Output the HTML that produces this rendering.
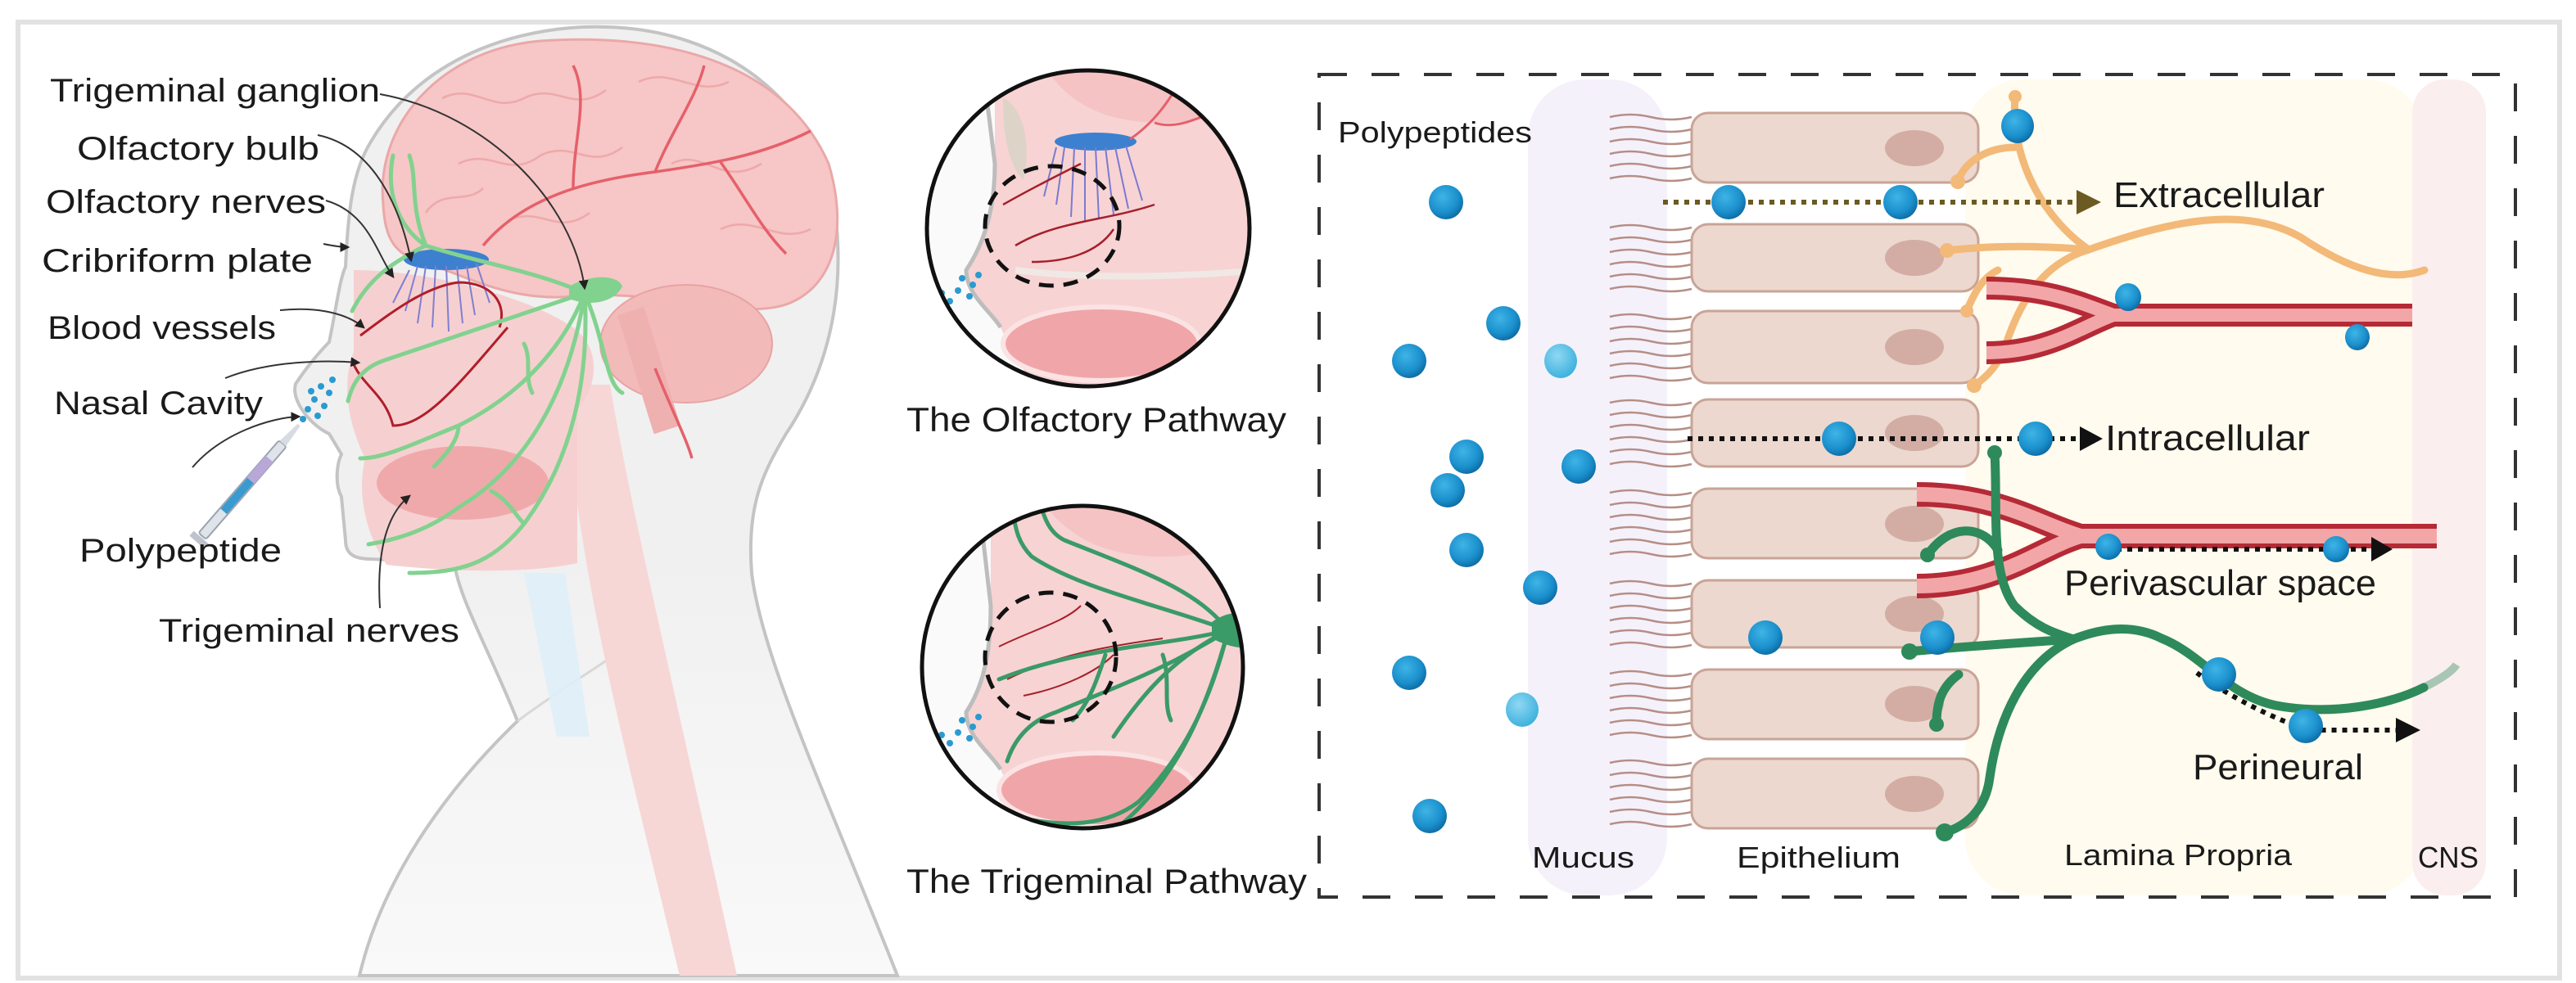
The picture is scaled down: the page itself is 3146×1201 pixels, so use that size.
<!DOCTYPE html>
<html><head><meta charset="utf-8"><style>
html,body{margin:0;padding:0;background:#fff;}
svg{display:block;}
text{font-family:"Liberation Sans",sans-serif;fill:#1a1a1a;}
</style></head><body>
<svg width="3146" height="1201" viewBox="0 0 3146 1201" xmlns="http://www.w3.org/2000/svg">
<defs>
<marker id="ah" viewBox="0 0 10 10" refX="8" refY="5" markerWidth="6" markerHeight="6" orient="auto"><path d="M0,0 L10,5 L0,10 Z" fill="#222"/></marker>
<radialGradient id="ball" cx="40%" cy="35%" r="65%"><stop offset="0" stop-color="#3fb4e6"/><stop offset="0.7" stop-color="#1a8fcc"/><stop offset="1" stop-color="#0f6fa8"/></radialGradient>
<radialGradient id="ballL" cx="40%" cy="35%" r="65%"><stop offset="0" stop-color="#8fd8f2"/><stop offset="1" stop-color="#3fb2de"/></radialGradient>
<linearGradient id="bodyg" x1="0" y1="0" x2="0" y2="1"><stop offset="0.55" stop-color="#f0f0f0"/><stop offset="1" stop-color="#f9f9f9"/></linearGradient>
<g id="cil" fill="none" stroke="#b58e86" stroke-width="2.5">
<path d="M1966,0 q25,-6 50,0 t50,0"/><path d="M1966,15 q25,-6 50,0 t50,0"/><path d="M1966,30 q25,-6 50,0 t50,0"/><path d="M1966,45 q25,-6 50,0 t50,0"/><path d="M1966,60 q25,-6 50,0 t50,0"/><path d="M1966,75 q25,-6 50,0 t50,0"/>
</g>
<clipPath id="c1"><ellipse cx="1329" cy="279" rx="197" ry="193"/></clipPath>
<clipPath id="c2"><ellipse cx="1322" cy="815" rx="196" ry="197"/></clipPath>
</defs>

<rect x="22" y="27" width="3104" height="1168" fill="#fff" stroke="#e2e2e2" stroke-width="6"/>

<!-- HEAD -->
<path d="M453,173 C520,60 650,30 740,33 C880,36 1000,120 1020,260 C1035,380 1000,470 960,530 C930,580 912,620 918,700 C930,800 1000,950 1096,1192 L439,1192 C470,1060 560,950 632,881 C600,800 560,730 555,688 L453,683 C430,683 422,675 422,660 L417,607 C408,590 412,565 417,555 L402,530 C380,520 355,490 361,469 C380,440 400,420 402,418 C410,380 415,340 422,326 C425,260 430,210 453,173 Z" fill="url(#bodyg)" stroke="#c4c4c4" stroke-width="4"/>
<path d="M632,881 C700,830 760,800 800,760" fill="none" stroke="#d8d8d8" stroke-width="3"/>
<path d="M690,470 L745,470 C770,620 810,780 900,1192 L830,1192 C760,900 705,700 690,470 Z" fill="#f7d6d6"/>
<path d="M640,700 L690,700 L720,900 L680,900 Z" fill="#dfeef8" opacity="0.9"/>
<path d="M432,330 C520,330 640,360 700,400 C740,430 725,480 705,500 L705,688 C650,700 560,700 472,690 C445,650 436,600 446,560 C426,520 416,470 432,430 Z" fill="#f6d0d0"/>
<ellipse cx="565" cy="590" rx="105" ry="45" fill="#f0a9ab"/>
<path d="M468,250 C458,150 540,60 660,50 C800,40 955,70 1012,200 C1036,280 1020,350 960,372 C900,392 800,352 700,362 C620,370 560,332 520,322 C482,312 470,292 468,250 Z" fill="#f7c6c6" stroke="#eaa8a8" stroke-width="3"/>
<ellipse cx="838" cy="420" rx="105" ry="72" fill="#f3baba" stroke="#e8a3a3" stroke-width="2"/>
<path d="M770,380 C790,440 800,480 815,525" stroke="#efb0b0" stroke-width="34" fill="none"/>
<g fill="none" stroke="#eda9aa" stroke-width="2.5">
<path d="M540,120 C580,100 600,140 640,120 C680,100 700,140 740,110"/><path d="M560,200 C600,180 620,220 660,190 C700,170 720,210 760,180"/>
<path d="M780,100 C820,80 850,120 890,100"/><path d="M820,200 C860,180 880,230 930,200"/><path d="M620,270 C660,250 680,290 720,260"/>
<path d="M880,280 C920,260 950,300 990,280"/><path d="M520,260 C540,230 570,250 590,230"/>
</g>
<g fill="none" stroke="#e5606a" stroke-width="3.5">
<path d="M590,300 C640,240 720,220 800,210 C870,200 930,190 990,160"/>
<path d="M700,230 C700,170 720,120 700,80"/><path d="M800,210 C820,160 850,120 860,80"/>
<path d="M880,198 C910,240 930,280 960,310"/><path d="M800,450 C820,500 840,540 845,560"/>
</g>
<ellipse cx="545" cy="317" rx="52" ry="13" fill="#3d80cf"/>
<g stroke="#7f7fd0" stroke-width="2" fill="none">
<path d="M510,325 L495,380"/><path d="M520,325 L510,395"/><path d="M532,325 L528,400"/><path d="M545,325 L548,405"/><path d="M558,325 L565,395"/><path d="M570,325 L580,385"/><path d="M582,322 L598,370"/><path d="M500,330 L480,370"/>
</g>
<g fill="none" stroke="#b01e2a" stroke-width="3">
<path d="M440,410 C480,380 520,350 560,345 C600,345 620,370 610,400"/><path d="M430,440 C440,470 470,480 480,520 C520,520 560,470 620,400"/>
</g>
<g fill="none" stroke="#82d28f" stroke-width="5" stroke-linecap="round">
<path d="M714,358 C650,330 580,320 520,300 C490,280 470,240 480,190"/>
<path d="M520,300 C500,250 510,220 500,190"/><path d="M520,300 C480,320 450,340 430,380"/>
<path d="M714,358 C650,380 560,410 470,440 C440,450 430,470 425,490"/>
<path d="M714,358 C690,420 640,480 560,520 C510,540 470,560 440,560"/>
<path d="M714,358 C700,450 660,560 560,620 C520,650 480,660 450,665"/>
<path d="M714,358 C720,460 700,560 640,640 C600,690 560,700 500,700"/>
<path d="M714,358 C740,420 740,470 760,480"/><path d="M640,420 C650,440 640,460 650,480"/>
<path d="M560,520 C560,540 540,560 530,570"/><path d="M600,600 C620,610 630,630 640,640"/>
</g>
<path d="M695,350 C720,335 755,335 760,350 C750,370 720,375 695,365 Z" fill="#82d28f"/>
<g fill="#2a9bd0">
<circle cx="392" cy="472" r="4"/><circle cx="402" cy="480" r="4"/><circle cx="384" cy="488" r="4"/><circle cx="396" cy="496" r="4"/><circle cx="376" cy="500" r="4"/><circle cx="388" cy="508" r="4"/><circle cx="370" cy="512" r="4"/><circle cx="406" cy="464" r="4"/><circle cx="380" cy="478" r="4"/>
</g>
<g transform="translate(247,655) rotate(-49)">
<rect x="0" y="-6" width="150" height="12" rx="3" fill="#dfe3ea" stroke="#9aa3b0" stroke-width="2"/>
<rect x="40" y="-5" width="50" height="10" fill="#3a9bd0"/>
<rect x="90" y="-6" width="35" height="12" fill="#b9a7d8"/>
<rect x="-10" y="-12" width="8" height="24" fill="#bfc4cc"/>
<path d="M150,-5 L180,-2 L180,2 L150,5 Z" fill="#d8dce2"/>
</g>
<g fill="none" stroke="#333" stroke-width="2" marker-end="url(#ah)">
<path d="M464,115 C600,140 700,250 714,352"/>
<path d="M388,165 C460,180 490,260 502,318"/>
<path d="M398,245 C450,260 460,310 480,338"/>
<path d="M395,298 C405,300 415,302 425,302"/>
<path d="M342,379 C380,375 420,380 444,400"/>
<path d="M275,462 C330,440 400,440 438,443"/>
<path d="M235,571 C270,530 330,510 365,509"/>
<path d="M464,743 C460,680 470,630 500,606"/>
</g>
<g font-size="40">
<text x="61" y="124" textLength="403" lengthAdjust="spacingAndGlyphs">Trigeminal ganglion</text>
<text x="94" y="195" textLength="296" lengthAdjust="spacingAndGlyphs">Olfactory bulb</text>
<text x="56" y="260" textLength="342" lengthAdjust="spacingAndGlyphs">Olfactory nerves</text>
<text x="51" y="332" textLength="331" lengthAdjust="spacingAndGlyphs">Cribriform plate</text>
<text x="58" y="414" textLength="279" lengthAdjust="spacingAndGlyphs">Blood vessels</text>
<text x="66" y="506" textLength="255" lengthAdjust="spacingAndGlyphs">Nasal Cavity</text>
<text x="97" y="686" textLength="247" lengthAdjust="spacingAndGlyphs">Polypeptide</text>
<text x="194" y="784" textLength="367" lengthAdjust="spacingAndGlyphs">Trigeminal nerves</text>
</g>

<!-- CIRCLE 1 -->
<g clip-path="url(#c1)">
<rect x="1120" y="80" width="420" height="400" fill="#fafafa"/>
<path d="M1215,80 L1540,80 L1540,480 L1260,480 C1250,440 1230,420 1222,400 C1210,380 1180,360 1180,330 C1200,300 1215,260 1215,200 Z" fill="#f7d3d3"/>
<path d="M1275,80 C1300,120 1340,150 1420,150 C1480,150 1520,130 1540,110 L1540,80 Z" fill="#f5c3c3"/>
<path d="M1200,80 L1215,200 C1215,260 1200,300 1180,330 C1180,360 1210,380 1222,400" fill="none" stroke="#bdbdbd" stroke-width="5"/>
<path d="M1225,120 C1250,130 1260,180 1250,220 C1230,200 1225,160 1225,120 Z" fill="#ddd3c7"/>
<ellipse cx="1345" cy="420" rx="120" ry="45" fill="#f0a6a8" stroke="#fbe3e3" stroke-width="6"/>
<path d="M1240,330 C1320,340 1420,340 1540,330" stroke="#f0e8e4" stroke-width="8" fill="none"/>
<ellipse cx="1338" cy="173" rx="50" ry="11" fill="#3d80cf"/>
<g stroke="#7a7ad0" stroke-width="2" fill="none">
<path d="M1300,180 L1290,250"/><path d="M1312,180 L1308,265"/><path d="M1325,180 L1325,270"/><path d="M1338,180 L1342,268"/><path d="M1350,180 L1360,262"/><path d="M1362,180 L1378,255"/><path d="M1375,178 L1395,245"/><path d="M1290,180 L1275,240"/>
</g>
<g stroke="#e5606a" stroke-width="3" fill="none"><path d="M1380,170 C1410,150 1430,120 1440,100"/><path d="M1410,150 C1440,160 1470,140 1500,130"/></g>
<g stroke="#a51f2b" stroke-width="2.5" fill="none"><path d="M1225,250 C1260,230 1300,210 1320,200"/><path d="M1240,300 C1290,270 1350,270 1410,250"/><path d="M1260,320 C1300,320 1340,310 1360,280"/></g>
<ellipse cx="1285" cy="276" rx="82" ry="73" fill="none" stroke="#111" stroke-width="5" stroke-dasharray="18,12"/>
<g fill="#2a9bd0"><circle cx="1175" cy="340" r="4"/><circle cx="1188" cy="348" r="4"/><circle cx="1170" cy="355" r="4"/><circle cx="1184" cy="362" r="4"/><circle cx="1160" cy="368" r="4"/><circle cx="1195" cy="336" r="4"/><circle cx="1150" cy="358" r="4"/></g>
</g>
<ellipse cx="1329" cy="279" rx="197" ry="193" fill="none" stroke="#111" stroke-width="5"/>
<text x="1107" y="527" font-size="42" textLength="464" lengthAdjust="spacingAndGlyphs">The Olfactory Pathway</text>

<!-- CIRCLE 2 -->
<g clip-path="url(#c2)">
<rect x="1120" y="610" width="420" height="420" fill="#fafafa"/>
<path d="M1210,610 L1540,610 L1540,1020 L1260,1020 C1250,980 1230,960 1222,940 C1210,920 1180,900 1180,870 C1200,840 1210,800 1210,740 Z" fill="#f7d3d3"/>
<path d="M1270,610 C1300,650 1340,680 1420,680 C1480,680 1520,660 1540,640 L1540,610 Z" fill="#f5c3c3"/>
<path d="M1195,610 L1210,740 C1210,800 1200,840 1180,870 C1180,900 1210,920 1222,940" fill="none" stroke="#bdbdbd" stroke-width="5"/>
<ellipse cx="1340" cy="965" rx="120" ry="45" fill="#f0a6a8" stroke="#fbe3e3" stroke-width="6"/>
<g stroke="#a51f2b" stroke-width="2" fill="none"><path d="M1220,790 C1260,770 1300,760 1320,740"/><path d="M1230,830 C1290,800 1350,790 1420,780"/><path d="M1250,850 C1300,840 1340,820 1360,800"/></g>
<g fill="none" stroke="#3a9a68" stroke-width="5" stroke-linecap="round">
<path d="M1500,770 C1420,790 1320,790 1220,830"/>
<path d="M1500,770 C1420,740 1320,720 1260,680 C1240,660 1240,640 1235,615"/>
<path d="M1500,770 C1460,720 1400,700 1300,660 C1280,650 1275,630 1270,615"/>
<path d="M1500,770 C1480,850 1450,920 1390,980 C1350,1010 1300,1010 1250,1000"/>
<path d="M1500,770 C1420,820 1360,840 1290,870 C1260,880 1240,900 1230,930"/>
<path d="M1500,770 C1470,880 1430,960 1360,1015"/>
<path d="M1500,770 C1440,800 1400,840 1360,900"/><path d="M1350,800 C1340,830 1330,860 1310,880"/>
<path d="M1420,800 C1430,830 1420,860 1430,880"/>
</g>
<path d="M1480,760 C1500,745 1530,745 1540,760 L1540,790 C1520,795 1500,790 1480,780 Z" fill="#3a9a68"/>
<ellipse cx="1283" cy="803" rx="80" ry="79" fill="none" stroke="#111" stroke-width="5" stroke-dasharray="18,12"/>
<g fill="#2a9bd0"><circle cx="1175" cy="880" r="4"/><circle cx="1188" cy="888" r="4"/><circle cx="1170" cy="895" r="4"/><circle cx="1184" cy="902" r="4"/><circle cx="1160" cy="908" r="4"/><circle cx="1195" cy="876" r="4"/><circle cx="1150" cy="898" r="4"/></g>
</g>
<ellipse cx="1322" cy="815" rx="196" ry="197" fill="none" stroke="#111" stroke-width="5"/>
<text x="1107" y="1091" font-size="42" textLength="489" lengthAdjust="spacingAndGlyphs">The Trigeminal Pathway</text>

<!-- RIGHT PANEL -->
<rect x="1866" y="97" width="170" height="997" rx="70" fill="#f5f1fb"/>
<rect x="2400" y="97" width="560" height="997" rx="70" fill="#fffbee"/>
<rect x="2946" y="97" width="90" height="997" rx="40" fill="#fbeeee"/>
<rect x="1611" y="91" width="1461" height="1005" fill="none" stroke="#333" stroke-width="4" stroke-dasharray="34,30"/>

<use href="#cil" transform="translate(0,143)"/><use href="#cil" transform="translate(0,278)"/>
<use href="#cil" transform="translate(0,387)"/><use href="#cil" transform="translate(0,492)"/>
<use href="#cil" transform="translate(0,602)"/><use href="#cil" transform="translate(0,713)"/>
<use href="#cil" transform="translate(0,823)"/><use href="#cil" transform="translate(0,932)"/>
<g fill="#ecd8cf" stroke="#c9a497" stroke-width="3">
<rect x="2066" y="138" width="350" height="85" rx="20"/><rect x="2066" y="274" width="350" height="82" rx="20"/>
<rect x="2066" y="380" width="350" height="88" rx="20"/><rect x="2066" y="488" width="350" height="82" rx="20"/>
<rect x="2066" y="597" width="350" height="85" rx="20"/><rect x="2066" y="709" width="350" height="82" rx="20"/>
<rect x="2066" y="818" width="350" height="85" rx="20"/><rect x="2066" y="927" width="350" height="85" rx="20"/>
</g>
<g fill="#d3ada3">
<ellipse cx="2338" cy="181" rx="36" ry="22"/><ellipse cx="2338" cy="315" rx="36" ry="22"/><ellipse cx="2338" cy="424" rx="36" ry="22"/><ellipse cx="2338" cy="529" rx="36" ry="22"/>
<ellipse cx="2338" cy="640" rx="36" ry="22"/><ellipse cx="2338" cy="750" rx="36" ry="22"/><ellipse cx="2338" cy="860" rx="36" ry="22"/><ellipse cx="2338" cy="970" rx="36" ry="22"/>
</g>

<g fill="none" stroke="#f3b978" stroke-width="9" stroke-linecap="round">
<path d="M2461,118 C2455,200 2500,270 2551,305"/>
<path d="M2551,305 C2650,270 2740,250 2810,290 C2870,330 2920,345 2961,330"/>
<path d="M2551,305 C2490,300 2430,300 2378,306"/>
<path d="M2551,305 C2500,320 2470,360 2450,420 C2440,450 2420,465 2411,471"/>
<path d="M2461,180 C2430,180 2400,195 2391,222"/>
<path d="M2440,330 C2420,340 2410,360 2402,380"/>
</g>
<g fill="#f3b978"><circle cx="2461" cy="118" r="8"/><circle cx="2378" cy="306" r="9"/><circle cx="2411" cy="471" r="9"/><circle cx="2391" cy="222" r="9"/><circle cx="2402" cy="380" r="8"/></g>

<g fill="none">
<path d="M2426,352 C2500,352 2540,370 2581,385 L2946,385 M2426,431 C2500,431 2540,400 2581,385" stroke="#b52a36" stroke-width="28"/>
<path d="M2426,352 C2500,352 2540,370 2581,385 L2946,385 M2426,431 C2500,431 2540,400 2581,385" stroke="#f2a6a8" stroke-width="16"/>
</g>
<g fill="none">
<path d="M2341,604 C2440,604 2490,640 2541,655 L2976,655 M2341,716 C2440,716 2490,670 2541,655" stroke="#b52a36" stroke-width="30"/>
<path d="M2341,604 C2440,604 2490,640 2541,655 L2976,655 M2341,716 C2440,716 2490,670 2541,655" stroke="#f2a6a8" stroke-width="18"/>
</g>

<g fill="none" stroke="#2e8a5a" stroke-width="11" stroke-linecap="round">
<path d="M2436,553 C2440,620 2430,700 2460,740 C2490,770 2515,775 2532,781"/>
<path d="M2532,781 C2560,770 2600,760 2640,780 C2690,800 2720,850 2780,862 C2850,875 2920,860 2960,840"/>
<path d="M2532,781 C2470,785 2400,790 2332,796"/>
<path d="M2532,781 C2470,810 2440,880 2430,950 C2425,990 2400,1010 2375,1017"/>
<path d="M2392,824 C2370,840 2365,860 2365,885"/>
<path d="M2440,672 C2420,640 2380,640 2354,678"/>
</g>
<path d="M2960,840 C2980,830 2995,820 3000,812" fill="none" stroke="#2e8a5a" stroke-width="10" opacity="0.4"/>
<g fill="#2e8a5a"><circle cx="2436" cy="553" r="9"/><circle cx="2332" cy="796" r="10"/><circle cx="2375" cy="1017" r="11"/><circle cx="2365" cy="885" r="9"/><circle cx="2354" cy="678" r="9"/></g>

<g fill="none" stroke-width="6" stroke-dasharray="6,7">
<path d="M2031,247 L2538,247" stroke="#6b5a22"/>
<path d="M2061,536 L2540,536" stroke="#111"/>
<path d="M2572,671 L2900,671" stroke="#111"/>
<path d="M2683,822 C2720,850 2780,880 2820,892 L2935,892" stroke="#111"/>
</g>
<path d="M2536,232 L2566,247 L2536,262 Z" fill="#6b5a22"/>
<path d="M2540,521 L2568,536 L2540,551 Z" fill="#111"/>
<path d="M2896,656 L2922,671 L2896,686 Z" fill="#111"/>
<path d="M2926,877 L2956,892 L2926,907 Z" fill="#111"/>

<g fill="url(#ball)">
<ellipse cx="1766" cy="247" rx="21" ry="21"/><ellipse cx="1836" cy="395" rx="21" ry="21"/><ellipse cx="1721" cy="441" rx="21" ry="21"/>
<ellipse cx="1791" cy="558" rx="21" ry="21"/><ellipse cx="1768" cy="599" rx="21" ry="21"/><ellipse cx="1928" cy="570" rx="21" ry="21"/>
<ellipse cx="1791" cy="672" rx="21" ry="21"/><ellipse cx="1881" cy="718" rx="21" ry="21"/><ellipse cx="1721" cy="822" rx="21" ry="21"/>
<ellipse cx="1746" cy="997" rx="21" ry="21"/>
<ellipse cx="2111" cy="247" rx="21" ry="21"/><ellipse cx="2321" cy="247" rx="21" ry="21"/><ellipse cx="2464" cy="154" rx="20" ry="21"/>
<ellipse cx="2246" cy="536" rx="21" ry="21"/><ellipse cx="2486" cy="536" rx="21" ry="21"/>
<ellipse cx="2599" cy="363" rx="16" ry="17"/><ellipse cx="2879" cy="412" rx="15" ry="16"/>
<ellipse cx="2575" cy="668" rx="16" ry="16"/><ellipse cx="2853" cy="671" rx="16" ry="16"/>
<ellipse cx="2156" cy="779" rx="21" ry="21"/><ellipse cx="2366" cy="779" rx="21" ry="21"/>
<ellipse cx="2710" cy="824" rx="21" ry="21"/><ellipse cx="2816" cy="887" rx="21" ry="21"/>
</g>
<g fill="url(#ballL)"><ellipse cx="1906" cy="441" rx="20" ry="21"/><ellipse cx="1859" cy="867" rx="20" ry="21"/></g>

<text x="1634" y="174" font-size="36" textLength="237" lengthAdjust="spacingAndGlyphs">Polypeptides</text>
<g font-size="44">
<text x="2581" y="253" textLength="258" lengthAdjust="spacingAndGlyphs">Extracellular</text>
<text x="2571" y="550" textLength="250" lengthAdjust="spacingAndGlyphs">Intracellular</text>
<text x="2521" y="727" textLength="381" lengthAdjust="spacingAndGlyphs">Perivascular space</text>
<text x="2678" y="952" textLength="208" lengthAdjust="spacingAndGlyphs">Perineural</text>
</g>
<g font-size="36" fill="#333">
<text x="1871" y="1060" textLength="125" lengthAdjust="spacingAndGlyphs">Mucus</text>
<text x="2121" y="1060" textLength="200" lengthAdjust="spacingAndGlyphs">Epithelium</text>
<text x="2521" y="1057" textLength="278" lengthAdjust="spacingAndGlyphs">Lamina Propria</text>
<text x="2953" y="1060" textLength="74" lengthAdjust="spacingAndGlyphs">CNS</text>
</g>
</svg>
</body></html>
